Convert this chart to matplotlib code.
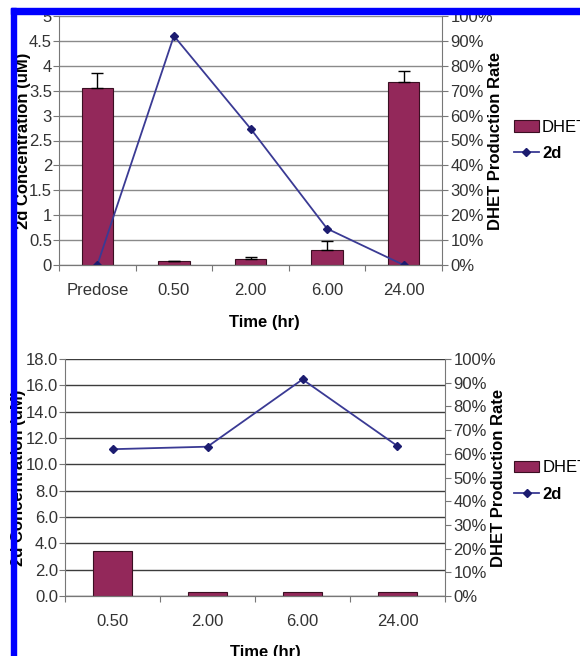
import numpy as np
import matplotlib
matplotlib.use('Agg')
from matplotlib import pyplot as plt
from matplotlib.patches import Rectangle

plt.rcParams['font.family'] = ['Liberation Sans', 'DejaVu Sans']

# Data - top chart
top_times = ['Predose', '0.50', '2.00', '6.00', '24.00']
top_dhet = [71.0, 1.7, 2.4, 6.0, 73.4]        # % production rate
top_dhet_err = [6.0, 0.0, 0.9, 3.7, 4.4]
top_2d = [0.0, 4.6, 2.74, 0.73, 0.0]          # uM

# Data - bottom chart
bot_times = ['0.50', '2.00', '6.00', '24.00']
bot_dhet = [19.0, 1.8, 1.6, 1.8]
bot_2d = [11.15, 11.34, 16.45, 11.39]

bar_color = '#93285a'
line_color = '#3a3a94'
marker_color = '#1c1c70'

W, H = 580, 656
fig = plt.figure(figsize=(W / 100, H / 100), dpi=100)


def frac_box(x0, x1, y_top, y_bot):
    return [x0 / W, 1 - y_bot / H, (x1 - x0) / W, (y_bot - y_top) / H]


def make_panel(box, cats, dhet, conc, ymax, ystep, yfmt, grid_col, tick_fs, err=None,
               ylab_x=-0.09, y2lab_x=1.14, xlab_x=0.5, xlab_y=-0.17, leg_pos=(1.17, 0.62)):
    ax = fig.add_axes(box)
    ax2 = ax.twinx()
    ax.set_zorder(2)
    ax.patch.set_visible(False)
    n = len(cats)
    x = np.arange(n)

    # gridlines follow the left axis
    for v in np.arange(0, ymax + 0.001, ystep):
        ax2.axhline(v / ymax * 100, color=grid_col, lw=1.0, zorder=0)

    if err is not None:
        ax2.bar(x, dhet, width=0.41, color=bar_color, edgecolor='#3a0f22', lw=0.8,
                yerr=[np.zeros(n), err], error_kw=dict(ecolor='black', elinewidth=1.0,
                                                      capsize=4, capthick=1.0),
                label='DHET', zorder=2)
    else:
        ax2.bar(x, dhet, width=0.41, color=bar_color, edgecolor='#3a0f22', lw=0.8,
                label='DHET', zorder=2)
    ax.plot(x, conc, color=line_color, lw=1.3, marker='D', ms=4, mfc=marker_color,
            mec=marker_color, label='2d')

    ax.set_xlim(-0.5, n - 0.5)
    ax.set_ylim(0, ymax)
    ax2.set_ylim(0, 100)
    ax.set_yticks(np.arange(0, ymax + 0.001, ystep))
    ax.set_yticklabels([yfmt(v) for v in np.arange(0, ymax + 0.001, ystep)], fontsize=tick_fs)
    ax2.set_yticks(np.arange(0, 101, 10))
    ax2.set_yticklabels([f'{v}%' for v in range(0, 101, 10)], fontsize=tick_fs)

    ax.set_xticks(np.arange(n + 1) - 0.5)
    ax.set_xticklabels([''] * (n + 1))
    ax.set_xticks(x, minor=True)
    ax.set_xticklabels(cats, minor=True, fontsize=tick_fs)
    ax.tick_params(axis='x', which='major', length=4, color='#777777')
    ax.tick_params(axis='x', which='minor', length=0, pad=13, colors='#333333')
    ax.tick_params(axis='y', length=4, color='#777777', pad=1, colors='#333333')
    ax2.tick_params(axis='y', length=4, color='#777777', pad=2, colors='#333333')

    for a in (ax, ax2):
        a.spines['top'].set_visible(False)
        for s in ('left', 'right', 'bottom'):
            a.spines[s].set_color('#777777')
    ax2.spines['left'].set_visible(False)
    ax.spines['right'].set_visible(False)

    ax.set_ylabel('2d Concentration (uM)', fontsize=12, fontweight='bold')
    ax.yaxis.set_label_coords(ylab_x, 0.5)
    ax2.set_ylabel('DHET Production Rate', fontsize=12, fontweight='bold')
    ax2.yaxis.set_label_coords(y2lab_x, 0.5)
    ax.set_xlabel('Time (hr)', fontsize=12, fontweight='bold')
    ax.xaxis.set_label_coords(xlab_x, xlab_y)

    h1, l1 = ax2.get_legend_handles_labels()
    h2, l2 = ax.get_legend_handles_labels()
    leg = ax.legend(h1 + h2, l1 + l2, loc='center left', bbox_to_anchor=leg_pos,
                    frameon=False, fontsize=12, handlelength=1.5, handletextpad=0.2,
                    labelspacing=0.7, borderaxespad=0)
    leg.get_texts()[1].set_fontweight('bold')
    return ax, ax2


make_panel(frac_box(59, 442, 16, 265), top_times, top_dhet, top_2d, 5, 0.5,
           lambda v: f'{v:g}', '#8a8a8a', 12, err=top_dhet_err,
           ylab_x=-0.073, y2lab_x=1.12, xlab_x=0.535, xlab_y=-0.2, leg_pos=(1.17, 0.5))

make_panel(frac_box(65, 445, 359, 596), bot_times, bot_dhet, bot_2d, 18, 2.0,
           lambda v: f'{v:.1f}', '#3c3c3c', 12, err=None,
           ylab_x=-0.103, y2lab_x=1.121, xlab_x=0.526, xlab_y=-0.205, leg_pos=(1.165, 0.485))

# blue frame on top and left
fig.add_artist(Rectangle((11 / W, 1 - 14 / H), 1 - 11 / W, 6 / H, transform=fig.transFigure,
                         color='#0000ff', zorder=10))
fig.add_artist(Rectangle((11 / W, 0), 5 / W, 1 - 8 / H, transform=fig.transFigure,
                         color='#0000ff', zorder=10))

fig.savefig('out.png', dpi=100)
